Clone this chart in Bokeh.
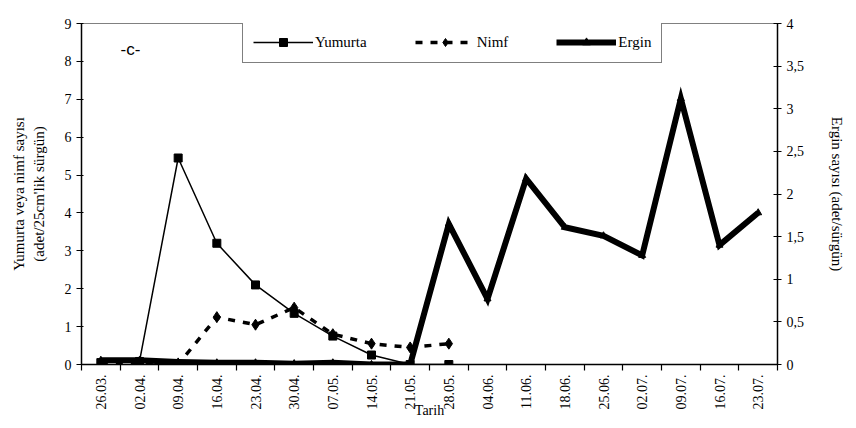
from bokeh.plotting import figure
from bokeh.models import (Range1d, LinearAxis, FixedTicker, Legend, LegendItem, Label)
from bokeh.embed import file_html
from bokeh.resources import INLINE
import numpy as np

dates = ["26.03.", "02.04.", "09.04.", "16.04.", "23.04.", "30.04.", "07.05.", "14.05.", "21.05.",
         "28.05.", "04.06.", "11.06.", "18.06.", "25.06.", "02.07.", "09.07.", "16.07.", "23.07."]
yumurta = [0.05, 0.08, 5.45, 3.2, 2.1, 1.35, 0.75, 0.25, 0.0, 0.0]
nimf = [0.0, 0.0, 0.0, 1.25, 1.05, 1.5, 0.8, 0.55, 0.45, 0.55]
ergin = [0.05, 0.05, 0.03, 0.02, 0.02, 0.01, 0.02, 0.0, 0.0,
         1.65, 0.77, 2.18, 1.61, 1.51, 1.28, 3.12, 1.40, 1.78]
left_ticks = [0, 1, 2, 3, 4, 5, 6, 7, 8, 9]
right_ticks = [0, 0.5, 1, 1.5, 2, 2.5, 3, 3.5, 4]

FONT = "Liberation Serif"
n = len(dates)
xc = np.arange(n) + 0.5

p = figure(width=848, height=420, output_backend="svg", toolbar_location=None,
           x_range=Range1d(0, n), y_range=Range1d(0, 9),
           min_border_left=81, min_border_top=23, min_border_right=68, min_border_bottom=56)
p.extra_y_ranges = {"right": Range1d(0, 4)}
p.grid.visible = False
p.outline_line_color = "#808080"
p.outline_line_width = 1
p.background_fill_color = "white"
p.border_fill_color = "white"

# x axis
xa = p.xaxis[0]
xa.ticker = FixedTicker(ticks=list(xc), minor_ticks=list(np.arange(n + 1)))
xa.major_label_overrides = {float(v): d for v, d in zip(xc, dates)}
xa.major_label_orientation = np.pi / 2
xa.major_tick_out = 0
xa.major_tick_in = 0
xa.minor_tick_out = 6
xa.minor_tick_in = 0
xa.axis_label = "Tarih"
xa.axis_label_standoff = -10
xa.axis_label_text_font_style = "normal"

# left axis
ya = p.yaxis[0]
ya.ticker = FixedTicker(ticks=left_ticks)
ya.major_tick_out = 5
ya.major_tick_in = 2
ya.minor_tick_out = 0
ya.minor_tick_in = 0
ya.axis_label = "Yumurta veya nimf sayısı\n(adet/25cm'lik sürgün)"
ya.axis_label_standoff = 15
ya.axis_label_text_font_style = "normal"

# right axis
ra = LinearAxis(y_range_name="right")
ra.ticker = FixedTicker(ticks=right_ticks)
ra.major_label_overrides = {t: (str(t).replace(".", ",") if t != int(t) else str(int(t))) for t in right_ticks}
ra.major_tick_out = 4
ra.major_tick_in = 4
ra.minor_tick_out = 0
ra.minor_tick_in = 0
ra.axis_label = "Ergin sayısı (adet/sürgün)"
ra.axis_label_standoff = 22
ra.axis_label_text_font_style = "normal"
p.add_layout(ra, "right")

for ax in [xa, ya, ra]:
    ax.axis_line_color = "black"
    ax.axis_line_width = 1.5
    ax.major_tick_line_color = "black"
    ax.minor_tick_line_color = "black"
    ax.major_tick_line_width = 1.2
    ax.minor_tick_line_width = 1.2
    ax.major_label_text_font = FONT
    ax.major_label_text_font_size = "14px"
    ax.major_label_text_color = "black"
    ax.axis_label_text_font = FONT
    ax.axis_label_text_font_size = "15px"
    ax.axis_label_text_color = "black"
xa.major_label_standoff = 4
xa.axis_label_text_font_size = "14px"

# Ergin (thick, right axis)
xe = xc[:len(ergin)]
e_line = p.line(xe, ergin, y_range_name="right", line_color="black", line_width=6, line_join="miter")
e_pts = p.scatter(xe, ergin, y_range_name="right", marker="triangle", size=7, color="black")

# Yumurta
xy = xc[:len(yumurta)]
y_line = p.line(xy, yumurta, line_color="black", line_width=1.5)
y_pts = p.scatter(xy, yumurta, marker="square", size=8, color="black")

# Nimf
xn = xc[:len(nimf)]
n_line = p.line(xn, nimf, line_color="black", line_width=3.5, line_dash="7 8")
n_pts = p.scatter(xn, nimf, marker="diamond", size=11, color="black")

legend = Legend(items=[
    LegendItem(label="Yumurta", renderers=[y_line, y_pts]),
    LegendItem(label="Nimf", renderers=[n_line, n_pts]),
    LegendItem(label="Ergin", renderers=[e_line, e_pts]),
], orientation="horizontal", location=(161, 301))
legend.glyph_width = 60
legend.glyph_height = 20
legend.label_standoff = 2
legend.spacing = 48
legend.padding = 10
legend.margin = 0
legend.label_text_font = FONT
legend.label_text_font_size = "15px"
legend.label_text_color = "black"
legend.border_line_color = "black"
legend.border_line_width = 1
legend.background_fill_color = "white"
legend.background_fill_alpha = 1
p.add_layout(legend, "center")

p.add_layout(Label(x=39, y=306, x_units="screen", y_units="screen", text="-c-",
                   text_font="Liberation Sans", text_font_size="17px", text_color="black"))

open("out.html", "w").write(file_html(p, INLINE))
